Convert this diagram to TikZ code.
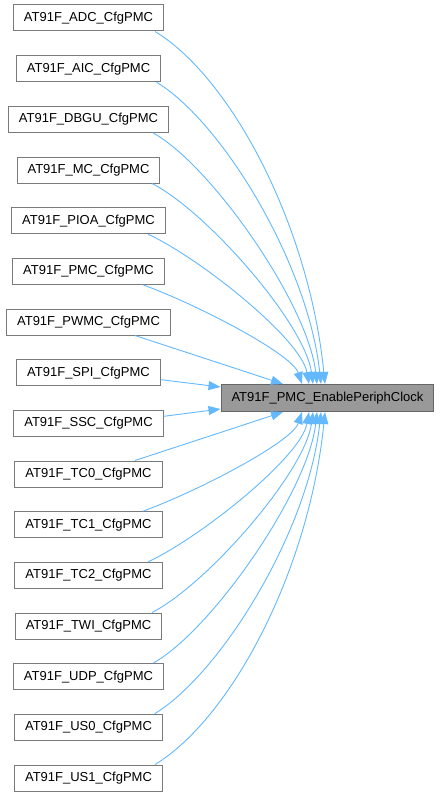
\documentclass[tikz,border=0pt]{standalone}
\usepackage{fontspec}
\setmainfont{Liberation Sans}
\usetikzlibrary{arrows.meta}
\definecolor{edgeblue}{HTML}{63B8FF}
\definecolor{boxborder}{HTML}{7A7A7A}
\definecolor{tgtfill}{HTML}{999999}
\definecolor{tgtborder}{HTML}{666666}
\begin{document}
\begin{tikzpicture}[x=1pt,y=-1pt,
  fnbox/.style={draw=boxborder,fill=white,line width=1pt,inner xsep=10.5pt,inner ysep=0pt,
     minimum height=26pt,font=\fontsize{13}{15}\selectfont},
  tgtbox/.style={fnbox,draw=tgtborder,fill=tgtfill,minimum height=27pt},
  call/.style={draw=edgeblue,line width=0.9pt,-{Triangle[length=12pt,width=9pt,fill=edgeblue]}}]
\useasboundingbox (0,0) rectangle (440,797);
\node[tgtbox] (t) at (327.5,398) {AT91F\_PMC\_EnablePeriphClock};
\node[fnbox] (n0) at (88.5,18) {AT91F\_ADC\_CfgPMC};
\node[fnbox] (n1) at (88.5,68.67) {AT91F\_AIC\_CfgPMC};
\node[fnbox] (n2) at (88.5,119.33) {AT91F\_DBGU\_CfgPMC};
\node[fnbox] (n3) at (88.5,170) {AT91F\_MC\_CfgPMC};
\node[fnbox] (n4) at (88.5,220.67) {AT91F\_PIOA\_CfgPMC};
\node[fnbox] (n5) at (88.5,271.33) {AT91F\_PMC\_CfgPMC};
\node[fnbox] (n6) at (88.5,322) {AT91F\_PWMC\_CfgPMC};
\node[fnbox] (n7) at (88.5,372.67) {AT91F\_SPI\_CfgPMC};
\node[fnbox] (n8) at (88.5,423.33) {AT91F\_SSC\_CfgPMC};
\node[fnbox] (n9) at (88.5,474) {AT91F\_TC0\_CfgPMC};
\node[fnbox] (n10) at (88.5,524.67) {AT91F\_TC1\_CfgPMC};
\node[fnbox] (n11) at (88.5,575.33) {AT91F\_TC2\_CfgPMC};
\node[fnbox] (n12) at (88.5,626) {AT91F\_TWI\_CfgPMC};
\node[fnbox] (n13) at (88.5,676.67) {AT91F\_UDP\_CfgPMC};
\node[fnbox] (n14) at (88.5,727.33) {AT91F\_US0\_CfgPMC};
\node[fnbox] (n15) at (88.5,778) {AT91F\_US1\_CfgPMC};
% upper calls
\draw[call] ([xshift=66.5pt]n0.south) .. controls +(76,46) and +(-16,-159) .. ([xshift=-2.5pt]t.north);
\draw[call] ([xshift=68pt]n1.south) .. controls +(66,40) and +(-13,-120) .. ([xshift=-6.5pt]t.north);
\draw[call] ([xshift=64.5pt]n2.south) .. controls +(58,32) and +(-9,-80) .. ([xshift=-10.5pt]t.north);
\draw[call] ([xshift=63.5pt]n3.south) .. controls +(55,28) and +(-8,-60) .. ([xshift=-14.5pt]t.north);
\draw[call] ([xshift=59.5pt]n4.south) .. controls +(52,24) and +(-8,-45) .. ([xshift=-18.5pt]t.north);
\draw[call] ([xshift=54.5pt]n5.south) .. controls +(55,20) and +(-10,-30) .. ([xshift=-25.5pt]t.north);
\draw[call] ([xshift=46.5pt]n6.south) -- ([xshift=-44.5pt]t.north);
\draw[call] ([yshift=-7pt]n7.east) -- ([yshift=11pt]t.west);
% lower calls
\draw[call] ([yshift=7pt]n8.east) -- ([yshift=-11pt]t.west);
\draw[call] ([xshift=46.5pt]n9.north) -- ([xshift=-44.5pt]t.south);
\draw[call] ([xshift=54.5pt]n10.north) .. controls +(55,-20) and +(-10,30) .. ([xshift=-25.5pt]t.south);
\draw[call] ([xshift=59.5pt]n11.north) .. controls +(52,-24) and +(-8,45) .. ([xshift=-18.5pt]t.south);
\draw[call] ([xshift=63.5pt]n12.north) .. controls +(55,-28) and +(-8,60) .. ([xshift=-14.5pt]t.south);
\draw[call] ([xshift=64.5pt]n13.north) .. controls +(58,-32) and +(-9,80) .. ([xshift=-10.5pt]t.south);
\draw[call] ([xshift=66pt]n14.north) .. controls +(66,-40) and +(-13,120) .. ([xshift=-6.5pt]t.south);
\draw[call] ([xshift=66.5pt]n15.north) .. controls +(76,-46) and +(-16,159) .. ([xshift=-2.5pt]t.south);
\end{tikzpicture}
\end{document}
